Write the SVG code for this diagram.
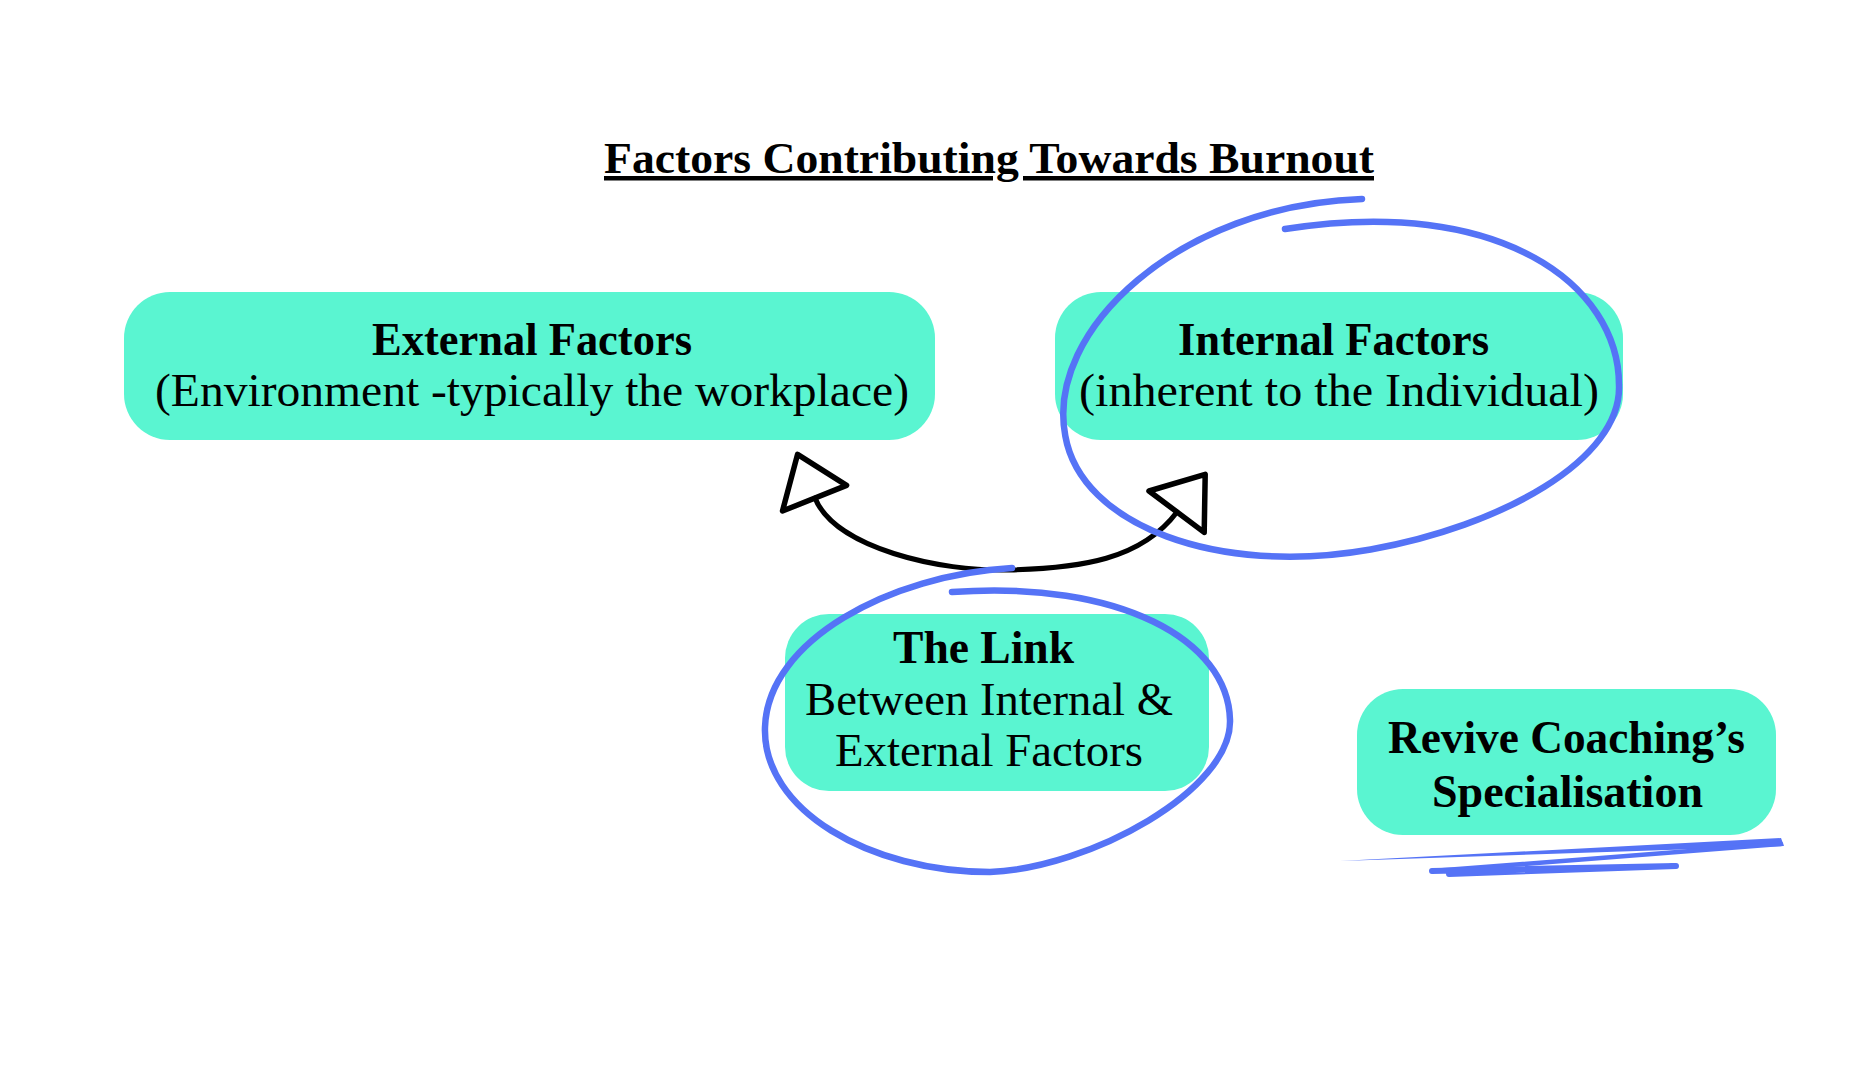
<svg xmlns="http://www.w3.org/2000/svg" width="1868" height="1080" viewBox="0 0 1868 1080">
  <defs>
    <style>
      .box { fill: #5AF5D1; }
      .t { font-family: "Liberation Serif", "Times New Roman", serif; font-size: 46px; fill: #000; }
      .b { font-weight: bold; }
      .title { font-family: "Liberation Serif", "Times New Roman", serif; font-size: 45px; font-weight: bold; fill: #000; text-decoration: underline; }
      .ring { fill: none; stroke: #5573F6; stroke-width: 6.5; stroke-linecap: round; stroke-linejoin: round; }
      .conn { fill: none; stroke: #000; stroke-width: 5; stroke-linecap: round; }
      .head { fill: none; stroke: #000; stroke-width: 5.5; stroke-linejoin: round; stroke-linecap: round; }
      .scribble { fill: none; stroke: #5573F6; stroke-linecap: round; stroke-linejoin: round; }
    </style>
    <marker id="arrowHead" markerUnits="userSpaceOnUse" viewBox="-10 -45 70 90" refX="0" refY="0" markerWidth="70" markerHeight="90" orient="auto-start-reverse" overflow="visible">
      <path class="head" d="M0,-35 L47,0 L0,34 Z"/>
    </marker>
  </defs>

  <rect width="1868" height="1080" fill="#ffffff"/>

  <g id="title">
    <text class="title" x="604" y="173" textLength="770" lengthAdjust="spacingAndGlyphs">Factors Contributing Towards Burnout</text>
  </g>

  <g id="node-external">
    <rect class="box" x="124" y="292" width="811" height="148" rx="46" ry="46"/>
    <text class="t b" x="372" y="355" textLength="320" lengthAdjust="spacingAndGlyphs">External Factors</text>
    <text class="t" x="155" y="406" textLength="754" lengthAdjust="spacingAndGlyphs">(Environment -typically the workplace)</text>
  </g>

  <g id="node-internal">
    <rect class="box" x="1055" y="292" width="568" height="148" rx="46" ry="46"/>
    <text class="t b" x="1178" y="355" textLength="311" lengthAdjust="spacingAndGlyphs">Internal Factors</text>
    <text class="t" x="1079" y="406" textLength="520" lengthAdjust="spacingAndGlyphs">(inherent to the Individual)</text>
  </g>

  <g id="node-link">
    <rect class="box" x="785" y="614" width="424" height="177" rx="44" ry="44"/>
    <text class="t b" x="893" y="663" textLength="181" lengthAdjust="spacingAndGlyphs">The Link</text>
    <text class="t" x="805" y="715" textLength="368" lengthAdjust="spacingAndGlyphs">Between Internal &amp;</text>
    <text class="t" x="835" y="766" textLength="308" lengthAdjust="spacingAndGlyphs">External Factors</text>
  </g>

  <g id="node-revive">
    <rect class="box" x="1357" y="689" width="419" height="146" rx="46" ry="46"/>
    <text class="t b" x="1388" y="753" textLength="357" lengthAdjust="spacingAndGlyphs">Revive Coaching’s</text>
    <text class="t b" x="1432" y="807" textLength="271" lengthAdjust="spacingAndGlyphs">Specialisation</text>
  </g>

  <g id="connectors">
    <path class="conn" d="M815,498 C835,548 940,572 1010,570 C1080,568 1141,560 1177,512" marker-start="url(#arrowHead)" marker-end="url(#arrowHead)"/>
  </g>

  <g id="annotations">
    <path class="ring" d="M1362,199 C1180,205 1045,330 1065.3,435.8 C1081.1,525.5 1217.8,576.5 1370.6,549.5 C1500,526.5 1622,460 1619,385 C1619,285 1500,195 1285,229"/>
    <path class="ring" d="M1012,568 C890,575 768,640 765,727 C762,810 870,872 990,872 C1090,868 1232,790 1230,720 C1228,640 1120,580 952,592"/>
    <polygon points="1340,861 1781,838 1784,846" fill="#5573F6"/>
    <path class="scribble" stroke-width="4.5" d="M1781,844 L1432,871"/>
    <path class="scribble" stroke-width="6" d="M1432,871 L1676,866 L1449,874"/>
  </g>
</svg>
